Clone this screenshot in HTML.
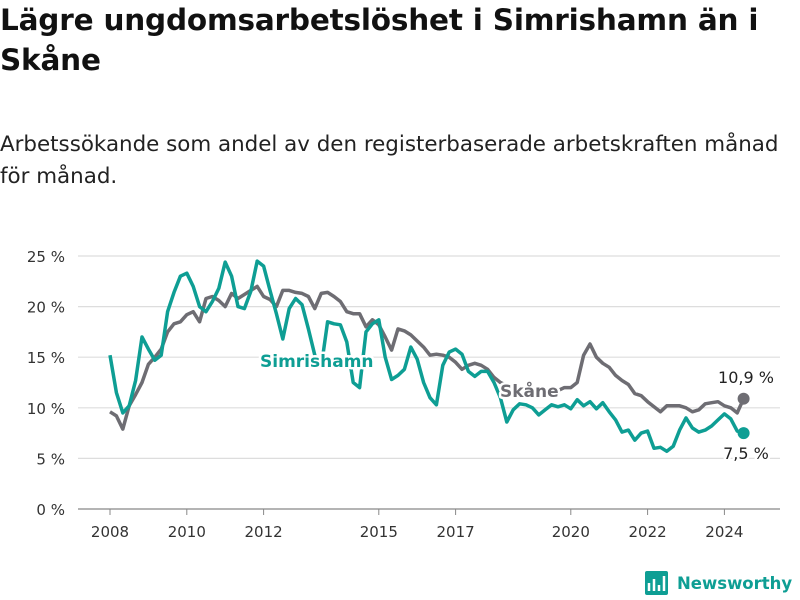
<!DOCTYPE html>
<html><head><meta charset="utf-8"><style>
body{margin:0;width:800px;height:600px;background:#fff;font-family:"DejaVu Sans",sans-serif;overflow:hidden;position:relative}
h1{position:absolute;left:0;top:0;margin:0;font-family:"DejaVu Sans",sans-serif;font-size:29.5px;line-height:40px;font-weight:bold;color:#111;width:800px;white-space:nowrap;letter-spacing:-0.2px}
p.sub{position:absolute;left:0;top:129px;margin:0;font-family:"DejaVu Sans",sans-serif;font-size:21.4px;line-height:32px;color:#222;width:800px;white-space:nowrap}
svg text{font-family:"DejaVu Sans",sans-serif}
</style></head><body>
<h1>Lägre ungdomsarbetslöshet i Simrishamn än i<br>Skåne</h1>
<p class="sub">Arbetssökande som andel av den registerbaserade arbetskraften månad<br>för månad.</p>
<svg id="chart" width="800" height="600" style="position:absolute;left:0;top:0"></svg>
<script>
const startYear = 2008;
const tickYears = [2008, 2010, 2012, 2015, 2017, 2020, 2022, 2024];
const yTicks = [0, 5, 10, 15, 20, 25];
// bi-monthly values starting Jan 2008
const skane = [9.6,9.2,7.9,10.2,11.3,12.5,14.3,15.0,15.8,17.5,18.3,18.5,19.2,19.5,18.5,20.8,21.0,20.6,20.0,21.3,20.8,21.2,21.6,22.0,21.0,20.7,20.0,21.6,21.6,21.4,21.3,21.0,19.8,21.3,21.4,21.0,20.5,19.5,19.3,19.3,18.0,18.7,18.2,17.0,15.7,17.8,17.6,17.2,16.6,16.0,15.2,15.3,15.2,15.0,14.5,13.8,14.2,14.4,14.2,13.8,13.0,12.5,12.2,12.0,11.8,11.8,11.7,11.5,11.6,11.5,11.7,12.0,12.0,12.5,15.2,16.3,15.0,14.4,14.0,13.2,12.7,12.3,11.4,11.2,10.6,10.1,9.6,10.2,10.2,10.2,10.0,9.6,9.8,10.4,10.5,10.6,10.2,10.0,9.5,10.9];
const simrishamn = [15.2,11.5,9.5,10.2,12.7,17.0,15.8,14.7,15.2,19.5,21.4,23.0,23.3,22.0,20.0,19.5,20.5,21.8,24.4,23.0,20.0,19.8,21.5,24.5,24.0,21.6,19.3,16.8,19.8,20.8,20.2,17.8,15.2,14.0,18.5,18.3,18.2,16.5,12.5,12.0,17.5,18.3,18.7,15.0,12.8,13.2,13.8,16.0,14.8,12.5,11.0,10.3,14.2,15.5,15.8,15.3,13.6,13.1,13.6,13.6,12.5,11.0,8.6,9.8,10.4,10.3,10.0,9.3,9.8,10.3,10.1,10.3,9.9,10.8,10.2,10.6,9.9,10.5,9.6,8.8,7.6,7.8,6.8,7.5,7.7,6.0,6.1,5.7,6.2,7.8,9.0,8.0,7.6,7.8,8.2,8.8,9.4,8.9,7.7,7.5];
const svg = document.getElementById('chart');
const NS = 'http://www.w3.org/2000/svg';
const xYear = y => 110 + (y - startYear) * 38.4;
const xIdx = i => xYear(startYear + i * 2 / 12);
const yV = v => 509 - v * 10.12;
function mk(tag, attrs, parent){const e=document.createElementNS(NS,tag);for(const k in attrs)e.setAttribute(k,attrs[k]);(parent||svg).appendChild(e);return e;}
yTicks.forEach(t=>{
  const g = mk('line',{x1:78,x2:780,y1:yV(t),y2:yV(t),stroke:t===0?'#888':'#ddd','stroke-width':1.2});
  
  
  const l = mk('text',{x:65,y:yV(t)+6,'text-anchor':'end','font-size':15,fill:'#333'});
  l.textContent = t + ' %';
  
  
});
tickYears.forEach(yr=>{
  const tk = mk('line',{x1:xYear(yr),x2:xYear(yr),y1:509,y2:515,stroke:'#888','stroke-width':1});
  
  
  const l = mk('text',{x:xYear(yr),y:537,'text-anchor':'middle','font-size':15,fill:'#333'});
  l.textContent = yr;
  
  
});
function line(data,color,name){
  const d = data.map((v,i)=>(i?'L':'M')+xIdx(i).toFixed(1)+','+yV(v).toFixed(1)).join('');
  const p = mk('path',{d:d,fill:'none',stroke:color,'stroke-width':3.5,'stroke-linejoin':'round'});
  
  
  const n = data.length-1;
  const c = mk('circle',{cx:xIdx(n),cy:yV(data[n]),r:6,fill:color});
  
  
}
line(skane,'#6e6d73','skane-line');
line(simrishamn,'#0e9e94','simrishamn-line');
function label(txt,x,y,color,bold,name,anchor,fs){
  const t = mk('text',{x:x,y:y,'font-size':fs||17,'font-weight':bold?'bold':'normal',fill:color,stroke:'#fff','stroke-width':5,'paint-order':'stroke','stroke-linejoin':'round','text-anchor':anchor||'start'});
  t.textContent = txt;
  
  
}
label('Simrishamn',260,367,'#0e9e94',true,'simrishamn-label');
label('Skåne',500,397,'#6e6d73',true,'skane-label');
label(skane[skane.length-1].toFixed(1).replace('.',',')+' %',746,383,'#222',false,'skane-end-value','middle',16);
label(simrishamn[simrishamn.length-1].toFixed(1).replace('.',',')+' %',746,459,'#222',false,'simrishamn-end-value','middle',16);
const lg = mk('g',{});


mk('rect',{x:645,y:571,width:23,height:24,rx:2,fill:'#0e9e94'},lg);
mk('path',{d:'M649 591V583M654 591V579M659 591V585M664 591V576',stroke:'#fff','stroke-width':2.5},lg);
const lt = mk('text',{x:677,y:589,'font-size':16.5,'font-weight':'bold',fill:'#0e9e94'},lg);
lt.textContent='Newsworthy';
</script>
</body></html>
